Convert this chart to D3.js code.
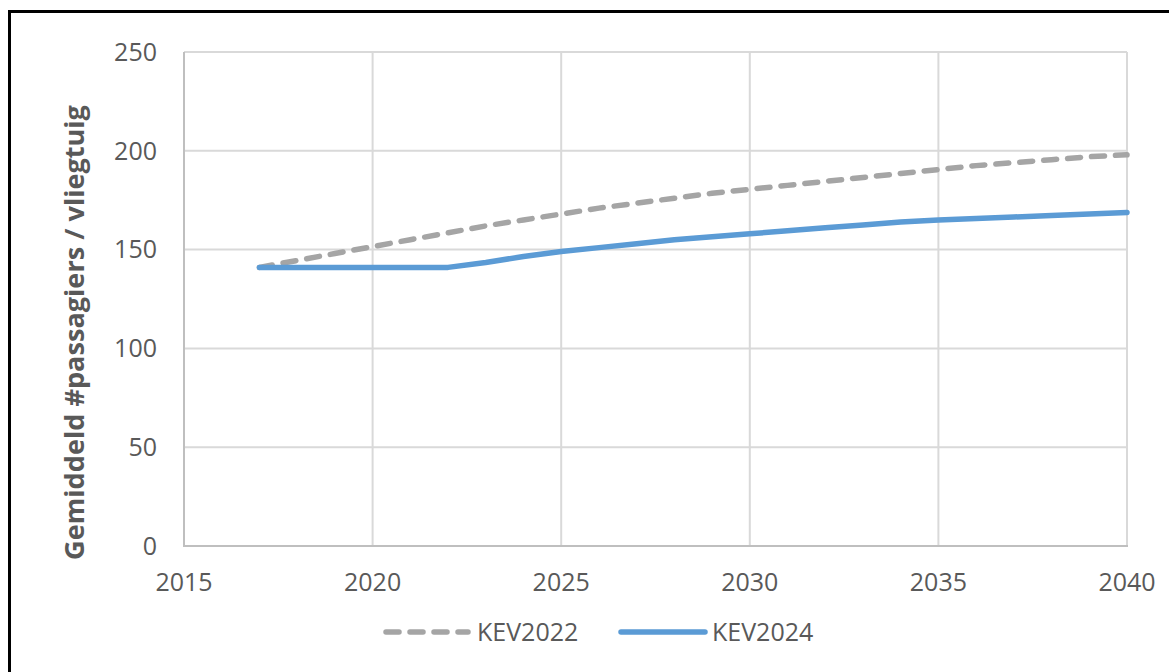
<!DOCTYPE html>
<html>
<head>
<meta charset="utf-8">
<script src="https://cdn.jsdelivr.net/npm/d3@7"></script>
<style>
  html, body { margin: 0; padding: 0; background: #fff; }
  svg { display: block; }
  text { font-family: "Open Sans", sans-serif; fill: #595959; }
</style>
</head>
<body>
<svg id="chart" width="1169" height="672"></svg>
<script>
// Average passengers per aircraft, two forecast editions
const years = [2017, 2018, 2019, 2020, 2021, 2022, 2023, 2024, 2025, 2026, 2027, 2028,
               2029, 2030, 2031, 2032, 2033, 2034, 2035, 2036, 2037, 2038, 2039, 2040];
const kev2022 = [141, 144.5, 148, 151.5, 155, 158.5, 162, 165, 168, 171, 173.5, 176,
                 178.5, 180.5, 182.5, 184.5, 186.5, 188.5, 190.5, 192.5, 194, 195.5, 197, 198];
const kev2024 = [141, 141, 141, 141, 141, 141, 143.5, 146.5, 149, 151, 153, 155,
                 156.5, 158, 159.5, 161, 162.5, 164, 165, 165.8, 166.5, 167.2, 168, 168.8];
const seriesNames = ["KEV2022", "KEV2024"];
const xTicks = [2015, 2020, 2025, 2030, 2035, 2040];
const yTicks = [0, 50, 100, 150, 200, 250];
const yTitle = "Gemiddeld #passagiers / vliegtuig";

const svg = d3.select("#chart");

// outer frame
svg.append("rect")
  .attr("x", 9.5).attr("y", 11.5)
  .attr("width", 1300).attr("height", 800)
  .attr("fill", "none").attr("stroke", "#000").attr("stroke-width", 3);

const plot = { left: 184, right: 1127, top: 52, bottom: 546 };
const x = d3.scaleLinear().domain([2015, 2040]).range([plot.left, plot.right]);
const y = d3.scaleLinear().domain([0, 250]).range([plot.bottom, plot.top]);

// horizontal gridlines
svg.append("g")
  .selectAll("line").data(yTicks.filter(v => v > 0)).join("line")
  .attr("x1", plot.left).attr("x2", plot.right)
  .attr("y1", d => y(d)).attr("y2", d => y(d))
  .attr("stroke", "#d9d9d9").attr("stroke-width", 2);

// vertical gridlines
svg.append("g")
  .selectAll("line").data(xTicks.filter(v => v > 2015)).join("line")
  .attr("x1", d => x(d)).attr("x2", d => x(d))
  .attr("y1", plot.top).attr("y2", plot.bottom)
  .attr("stroke", "#d9d9d9").attr("stroke-width", 2);

// axis lines
svg.append("line")
  .attr("x1", plot.left).attr("x2", plot.left)
  .attr("y1", plot.top).attr("y2", plot.bottom)
  .attr("stroke", "#bfbfbf").attr("stroke-width", 2);
svg.append("line")
  .attr("x1", plot.left - 1).attr("x2", plot.right + 1)
  .attr("y1", plot.bottom).attr("y2", plot.bottom)
  .attr("stroke", "#bfbfbf").attr("stroke-width", 2);

// tick labels
svg.append("g")
  .selectAll("text").data(yTicks).join("text")
  .attr("x", 157).attr("y", d => y(d))
  .attr("dy", "0.35em")
  .attr("text-anchor", "end")
  .style("font-size", "25px")
  .text(d => d);

svg.append("g")
  .selectAll("text").data(xTicks).join("text")
  .attr("x", d => x(d)).attr("y", 591)
  .attr("text-anchor", "middle")
  .style("font-size", "25px")
  .text(d => d);

// y axis title, sized to span the plot height
const title = svg.append("text")
  .attr("transform", `translate(84, ${(105 + 560) / 2}) rotate(-90)`)
  .attr("text-anchor", "middle")
  .style("font-size", "25px")
  .style("font-weight", "bold")
  .text(yTitle);
const len = title.node().getComputedTextLength();
title.style("font-size", (25 * 455 / len).toFixed(2) + "px");

// lines
const line = d3.line().x(d => x(d[0])).y(d => y(d[1]));
const data22 = years.map((yr, i) => [yr, kev2022[i]]);
const data24 = years.map((yr, i) => [yr, kev2024[i]]);

svg.append("path")
  .datum(data22)
  .attr("d", line)
  .attr("fill", "none")
  .attr("stroke", "#a5a5a5")
  .attr("stroke-width", 5.5)
  .attr("stroke-dasharray", "13 11")
  .attr("stroke-linecap", "round")
  .attr("stroke-linejoin", "round");

svg.append("path")
  .datum(data24)
  .attr("d", line)
  .attr("fill", "none")
  .attr("stroke", "#5b9bd5")
  .attr("stroke-width", 5.5)
  .attr("stroke-linecap", "round")
  .attr("stroke-linejoin", "round");

// legend
const legend = svg.append("g");
legend.append("line")
  .attr("x1", 386).attr("x2", 468).attr("y1", 632).attr("y2", 632)
  .attr("stroke", "#a5a5a5").attr("stroke-width", 5.5)
  .attr("stroke-dasharray", "13 11").attr("stroke-linecap", "round");
legend.append("text")
  .attr("x", 477).attr("y", 641)
  .style("font-size", "25px")
  .text(seriesNames[0]);
legend.append("line")
  .attr("x1", 621).attr("x2", 705).attr("y1", 632).attr("y2", 632)
  .attr("stroke", "#5b9bd5").attr("stroke-width", 5.5)
  .attr("stroke-linecap", "round");
legend.append("text")
  .attr("x", 712).attr("y", 641)
  .style("font-size", "25px")
  .text(seriesNames[1]);
</script>
</body>
</html>
